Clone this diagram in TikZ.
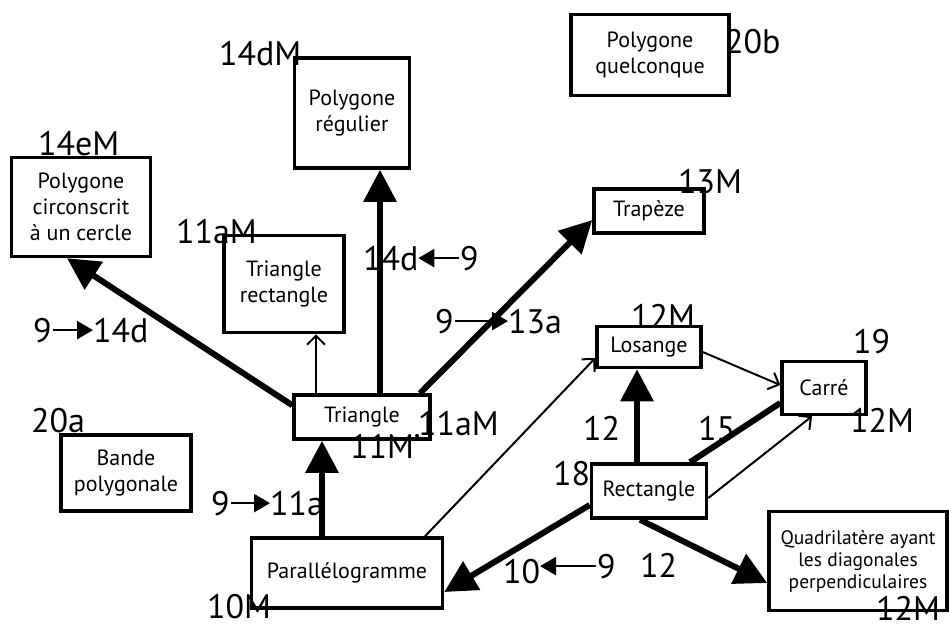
\documentclass[tikz,border=0pt]{standalone}
\usepackage{fontspec}
\setmainfont{PT Sans}
\usetikzlibrary{arrows.meta}
\begin{document}
\begin{tikzpicture}[x=1pt,y=-1pt,
  box/.style={draw,line width=3.5pt,align=center,inner sep=2pt,font=\fontsize{22}{26}\selectfont},
  tag/.style={inner sep=0pt,outer sep=0pt,anchor=base west,font=\fontsize{34}{36}\selectfont},
  mark9/.style={inner sep=1pt,anchor=base west,font=\fontsize{34}{36}\selectfont},
  heavy/.style={line width=6pt,-{Triangle[length=32pt,width=32pt]}},
  plain/.style={line width=6pt},
  light/.style={line width=2pt,-{Straight Barb[length=9pt,width=18pt]}},
  refarrow/.style={line width=2.5pt,-{Triangle[length=16pt,width=18pt]}}]
\path[use as bounding box] (0,0) rectangle (949,630);
% boxes
\node[box,minimum width=139pt,minimum height=99pt] (circ) at (81,207) {Polygone\\circonscrit\\à un cercle};
\node[box,minimum width=115pt,minimum height=110pt] (reg) at (352,113) {Polygone\\régulier};
\node[box,minimum width=120pt,minimum height=97pt] (trect) at (284,284) {Triangle\\rectangle};
\node[box,minimum width=158pt,minimum height=81pt] (quelc) at (650,55) {Polygone\\quelconque};
\node[box,minimum width=110pt,minimum height=44pt] (trap) at (649,211) {Trapèze};
\node[box,minimum width=104pt,minimum height=41pt] (los) at (649,347) {Losange};
\node[box,minimum width=84pt,minimum height=53pt] (carre) at (824,388) {Carré};
\node[box,minimum width=115pt,minimum height=54pt] (rect) at (649,491) {Rectangle};
\node[box,minimum width=178pt,minimum height=99pt,font=\fontsize{19.5}{22}\selectfont] (quad) at (858,561) {Quadrilatère ayant\\les diagonales\\perpendiculaires};
\node[box,minimum width=136pt,minimum height=44pt] (tri) at (362,417) {Triangle};
\node[box,minimum width=130pt,minimum height=76pt] (bande) at (126,473) {Bande\\polygonale};
\node[box,minimum width=191pt,minimum height=70pt] (para) at (347,573) {Parallélogramme};
% connectors
\draw[heavy] ([yshift=-12pt]tri.north west) -- ([xshift=-14pt]circ.south);
\draw[heavy] ([xshift=18pt]tri.north) -- ([xshift=28pt]reg.south);
\draw[light] ([xshift=-46pt]tri.north) -- ([xshift=32pt]trect.south);
\draw[heavy] ([xshift=58pt]tri.north) -- ([yshift=-9pt]trap.west);
\draw[heavy] ([xshift=-25pt]para.north) -- ([xshift=-40pt]tri.south);
\draw[light] ([xshift=78pt]para.north) -- ([yshift=-11pt]los.west);
\draw[heavy] ([yshift=-14pt]rect.west) -- ([yshift=-19pt]para.east);
\draw[heavy] ([xshift=-12pt]rect.north) -- ([xshift=-12pt]los.south);
\draw[plain] ([xshift=41pt]rect.north) -- ([yshift=-15pt]carre.west);
\draw[light] ([yshift=-7pt]rect.east) -- ([xshift=-12pt]carre.south);
\draw[light] ([yshift=-5pt]los.east) -- ([yshift=3pt]carre.west);
\draw[heavy] ([xshift=-9pt]rect.south) -- ([yshift=-22pt]quad.west);
% reference labels
\node[tag] (t14eM) at (38,155) {14eM};
\node[tag] (t14dM) at (219,65) {14dM};
\node[tag] (t11aMa) at (176,243) {11aM};
\node[tag] (t20b) at (725,53) {20b};
\node[tag] (t13M) at (678,193) {13M};
\node[tag] (t12Ma) at (631,328) {12M};
\node[tag] (t19) at (853,353) {19};
\node[tag] (t12Mb) at (850,432) {12M};
\node[tag] (t12Mc) at (876,620) {12M};
\node[tag] (t12a) at (583,440) {12};
\node[tag] (t15) at (698,440) {15};
\node[tag] (t18) at (553,485) {18};
\node[tag] (t12b) at (640,577) {12};
\node[tag] (t11aMb) at (418,435) {11aM};
\node[tag] (t11M) at (350,458) {11M'};
\node[tag] (t10M) at (207,618) {10M};
\node[tag] (t20a) at (31,432) {20a};
\node[tag] (t14da) at (93,342) {14d};
\node[tag] (t14db) at (363,270) {14d};
\node[tag] (t13a) at (508,333) {13a};
\node[tag] (t11a) at (270,515) {11a};
\node[tag] (t10) at (503,583) {10};
\node[mark9] (n9a) at (32,342) {9};
\node[mark9] (n9b) at (459,270) {9};
\node[mark9] (n9c) at (434,333) {9};
\node[mark9] (n9d) at (210,515) {9};
\node[mark9] (n9e) at (596,578) {9};
\draw[refarrow] (n9a.east) -- (n9a.east -| t14da.west);
\draw[refarrow] (n9b.west) -- (n9b.west -| t14db.east);
\draw[refarrow] (n9c.east) -- (n9c.east -| t13a.west);
\draw[refarrow] (n9d.east) -- (n9d.east -| t11a.west);
\draw[refarrow] (n9e.west) -- (n9e.west -| t10.east);
\end{tikzpicture}
\end{document}
